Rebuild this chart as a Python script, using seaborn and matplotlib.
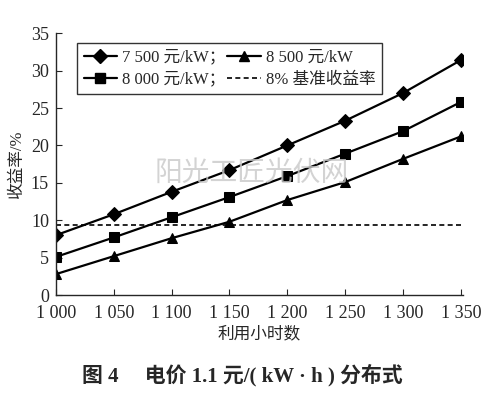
import numpy as np
import pandas as pd
import matplotlib
matplotlib.use("Agg")
import matplotlib.pyplot as plt
import seaborn as sns
from matplotlib.lines import Line2D

hours = [1000, 1050, 1100, 1150, 1200, 1250, 1300, 1350]
rate_7500 = [8.0, 10.8, 13.8, 16.7, 20.0, 23.3, 27.0, 31.4]
rate_8000 = [5.1, 7.7, 10.4, 13.1, 15.9, 18.9, 21.9, 25.8]
rate_8500 = [2.8, 5.2, 7.6, 9.8, 12.7, 15.1, 18.2, 21.2]
benchmark = 9.3

labels = ["7 500 元/kW；", "8 000 元/kW；", "8 500 元/kW", "8% 基准收益率"]
xticks = [1000, 1050, 1100, 1150, 1200, 1250, 1300, 1350]
xtick_labels = ["1 000", "1 050", "1 100", "1 150", "1 200", "1 250", "1 300", "1 350"]
yticks = [0, 5, 10, 15, 20, 25, 30, 35]

sns.set_style("ticks")
plt.rcParams['font.family'] = ['Liberation Serif', 'Noto Sans CJK SC']
plt.rcParams['axes.unicode_minus'] = False

df = pd.DataFrame({
    "hours": hours * 3,
    "rate": rate_7500 + rate_8000 + rate_8500,
    "series": [labels[0]] * 8 + [labels[1]] * 8 + [labels[2]] * 8,
})

fig = plt.figure(figsize=(5.04, 3.95), dpi=100)
ax = fig.add_axes([0.111, 0.253, 0.808, 0.663])

sns.lineplot(data=df, x="hours", y="rate", hue="series", style="series",
             palette=["black"] * 3, dashes=False,
             markers={labels[0]: "D", labels[1]: "s", labels[2]: "^"},
             markersize=7, linewidth=1.6, markeredgecolor="black",
             ax=ax, legend=False)
ax.plot([hours[0], hours[-1]], [benchmark, benchmark], color="black",
        linestyle=(0, (3, 2)), linewidth=1.2)

ax.set_xlim(1000, 1352)
ax.set_ylim(0, 35)
ax.set_xticks(xticks)
ax.set_xticklabels(xtick_labels, fontsize=13)
ax.set_yticks(yticks)
ax.set_yticklabels([str(v) for v in yticks], fontsize=13)
ax.tick_params(direction="in", length=4, width=0.8)
ax.tick_params(axis="x", pad=7)
ax.tick_params(axis="y", pad=5)
for s in ["top", "right"]:
    ax.spines[s].set_visible(False)
for s in ["left", "bottom"]:
    ax.spines[s].set_linewidth(1.0)

ax.set_xlabel("利用小时数", fontsize=12, labelpad=3)
ax.set_ylabel("收益率/%", fontsize=12, labelpad=4)

handles = [
    Line2D([], [], color="black", marker="D", markersize=7, linewidth=1.6),
    Line2D([], [], color="black", marker="s", markersize=7, linewidth=1.6),
    Line2D([], [], color="black", marker="^", markersize=7, linewidth=1.6),
    Line2D([], [], color="black", linestyle=(0, (3, 2)), linewidth=1.2),
]
leg = ax.legend(handles, labels, ncol=2, loc="upper left",
                bbox_to_anchor=(0.052, 0.962), borderaxespad=0,
                fontsize=12, frameon=True,
                fancybox=False, edgecolor="black", handlelength=2.0,
                handletextpad=0.3, columnspacing=0.1, labelspacing=0.35,
                borderpad=0.4)
leg.get_frame().set_linewidth(1.0)

fig.text(0.50, 0.562, "阳光工匠光伏网", fontsize=20, color="#c8c8c8",
         ha="center", va="center", family=["Noto Sans CJK SC"], alpha=0.8)

fig.text(0.48, 0.05, "图 4     电价 1.1 元/( kW · h ) 分布式", fontsize=15,
         fontweight="bold", ha="center", va="center")

fig.savefig("out.png", dpi=100)
